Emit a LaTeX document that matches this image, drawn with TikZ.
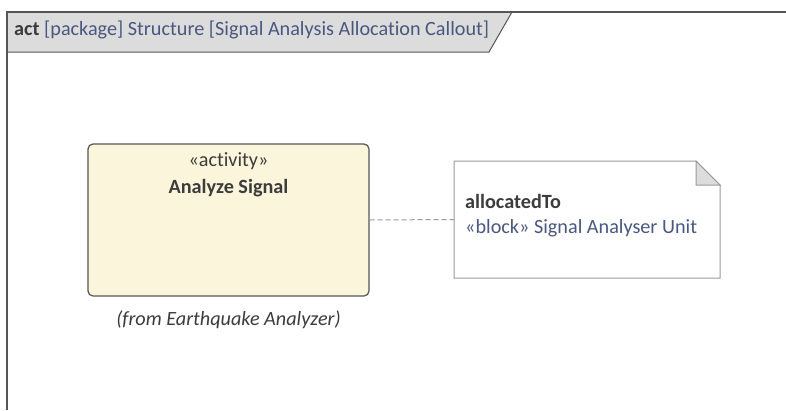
\documentclass[tikz,border=0pt]{standalone}
\usepackage{fontspec}
\setmainfont[Ligatures=NoCommon]{Carlito}
\definecolor{txt}{HTML}{3C3C3C}
\definecolor{blu}{HTML}{4A5880}
\definecolor{cream}{HTML}{FBF5DB}
\definecolor{tabgray}{HTML}{DCDCDC}
\definecolor{frame}{HTML}{555555}
\definecolor{notebd}{HTML}{9A9A9A}
\tikzset{
  lbl/.style={inner sep=0pt, font=\fontsize{20.2}{24}\selectfont, text=txt},
}
\begin{document}
\begin{tikzpicture}[x=1pt,y=-1pt]
\useasboundingbox (0,0) rectangle (786,410);
% frame
\fill[tabgray] (7,12) -- (512,12) -- (489,52) -- (7,52) -- cycle;
\draw[frame, line width=1.2pt] (7,410) -- (7,12) -- (786,12);
\draw[frame, line width=1pt] (7,52) -- (489,52) -- (512,12);
\node[lbl, anchor=west] (title) at (14,30) {\textbf{act} \textcolor{blu}{[package] Structure [Signal Analysis Allocation Callout]}};
% activity
\node[draw=frame, line width=1.2pt, fill=cream, rounded corners=5pt, minimum width=281pt, minimum height=152pt, inner sep=0pt] (act) at (228.5,220) {};
\node[lbl] (st) at (228.5,161) {«activity»};
\node[lbl, font=\fontsize{20.2}{24}\selectfont\bfseries] (nm) at (228.5,188) {Analyze Signal};
\node[lbl, font=\fontsize{20.2}{24}\selectfont\itshape] (from) at (228.5,320) {(from Earthquake Analyzer)};
% note
\draw[notebd, line width=1pt, fill=white] (454,161) -- (696,161) -- (720,185) -- (720,278) -- (454,278) -- cycle;
\draw[notebd, line width=1pt, fill=tabgray] (696,161) -- (696,185) -- (720,185) -- cycle;
\node[inner sep=0pt, minimum width=266pt, minimum height=117pt] (note) at (587,219.5) {};
\node[lbl, anchor=west, font=\fontsize{20.2}{24}\selectfont\bfseries] (alloc) at (465,201) {allocatedTo};
\node[lbl, anchor=west, text=blu] (blk) at (465,228) {«block» Signal Analyser Unit};
% connector
\draw[notebd, line width=1pt, dash pattern=on 5pt off 3pt] (act.east) -- (note.west);
\end{tikzpicture}
\end{document}
